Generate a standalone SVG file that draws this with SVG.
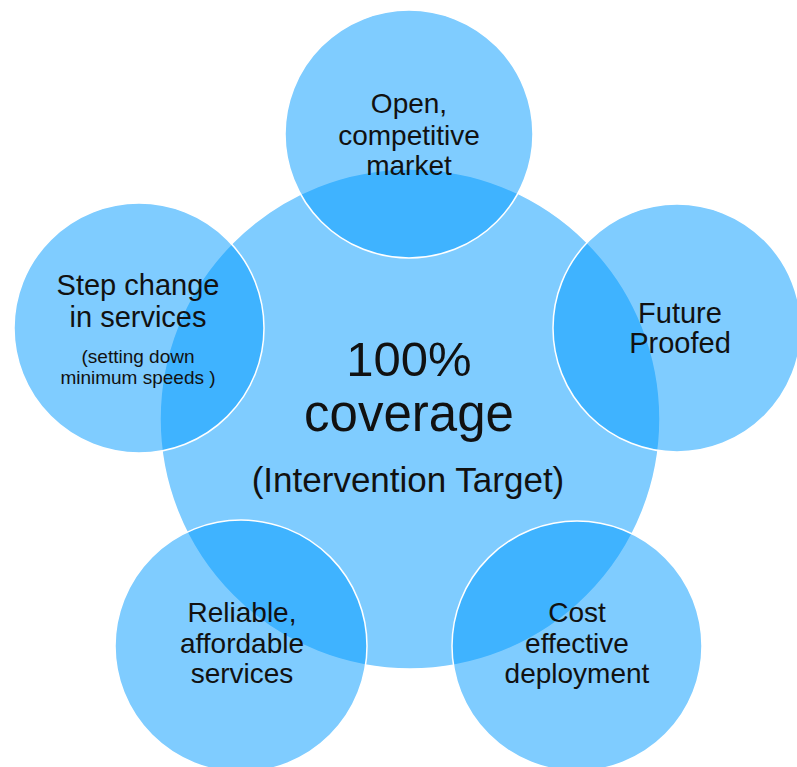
<svg xmlns="http://www.w3.org/2000/svg" width="797" height="767" viewBox="0 0 797 767">
<style>
.c{fill:#0099ff;fill-opacity:0.5;stroke:#ffffff;stroke-width:1.5}
.t{font-family:"Liberation Sans",Arial,sans-serif;fill:#111;text-anchor:middle}
</style>
<rect width="797" height="767" fill="#ffffff"/>
<g id="center">
<circle class="c" cx="410" cy="419" r="250"/>
<text class="t" x="409" y="376" font-size="49">100%</text>
<text class="t" x="409" y="431" font-size="51">coverage</text>
<text class="t" x="408" y="492" font-size="35">(Intervention Target)</text>
</g>
<g id="open-market">
<circle class="c" cx="409" cy="134" r="124"/>
<text class="t" x="409" y="113" font-size="28">Open,</text>
<text class="t" x="409" y="145" font-size="28">competitive</text>
<text class="t" x="409" y="175" font-size="28">market</text>
</g>
<g id="step-change">
<circle class="c" cx="139" cy="328" r="125"/>
<text class="t" x="138" y="295" font-size="29">Step change</text>
<text class="t" x="138" y="327" font-size="29">in services</text>
<text class="t" x="138" y="363" font-size="19">(setting down</text>
<text class="t" x="138" y="384" font-size="19">minimum speeds )</text>
</g>
<g id="future-proofed">
<circle class="c" cx="677" cy="328" r="124"/>
<text class="t" x="680" y="323" font-size="29">Future</text>
<text class="t" x="680" y="353" font-size="29">Proofed</text>
</g>
<g id="reliable">
<circle class="c" cx="241" cy="646" r="126"/>
<text class="t" x="242" y="622" font-size="28">Reliable,</text>
<text class="t" x="242" y="653" font-size="28">affordable</text>
<text class="t" x="242" y="683" font-size="28">services</text>
</g>
<g id="cost-effective">
<circle class="c" cx="577" cy="646" r="125"/>
<text class="t" x="577" y="622" font-size="28">Cost</text>
<text class="t" x="577" y="653" font-size="28">effective</text>
<text class="t" x="577" y="683" font-size="28">deployment</text>
</g>
<g id="connectors"></g>
</svg>
